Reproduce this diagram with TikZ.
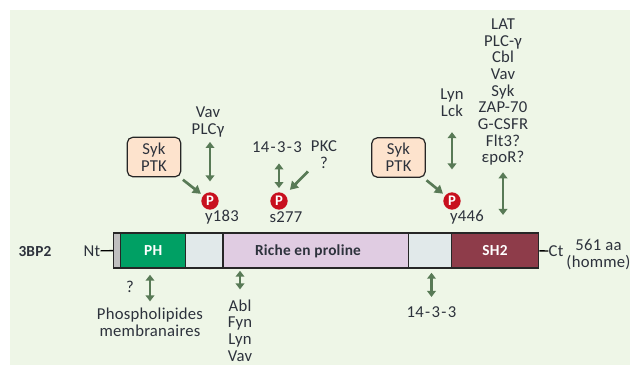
\documentclass[tikz,border=0pt]{standalone}
\usepackage{fontspec}
\setmainfont{Carlito}[LetterSpace=1.5]
\usepackage{tikz}
\usetikzlibrary{
    positioning,
    arrows.meta
}
\definecolor{PageGreen}{RGB}{238,246,231}
\definecolor{LinkGreen}{RGB}{88,122,86}
\definecolor{InkDark}{RGB}{45,50,60}
\definecolor{BoxPeach}{RGB}{253,227,205}
\definecolor{DomPH}{RGB}{0,160,100}
\definecolor{DomGrey}{RGB}{225,233,234}
\definecolor{DomProline}{RGB}{224,204,226}
\definecolor{DomSH}{RGB}{142,60,74}
\definecolor{PhosRed}{RGB}{200,16,30}

\begin{document}
\begin{tikzpicture}[
                    x=0.75pt, y=-0.75pt,
                    font=\fontsize{12.5}{12.5}\selectfont,
                    every node/.style={inner sep=0pt, text=InkDark},
                    lbl/.style={align=center},
                    dombox/.style={draw=black!85, line width=1.1pt, minimum height=26.25pt, anchor=west, font=\fontsize{11.5}{12}\selectfont\bfseries},
                    kinase/.style={draw=black!85, line width=0.9pt, fill=BoxPeach, rounded corners=4pt, minimum width=40pt, minimum height=29.5pt, align=center},
                    phos/.style={circle, fill=PhosRed, text=white, minimum size=13pt, font=\fontsize{11}{11}\selectfont\bfseries},
                    link/.style={-{Triangle[length=6pt,width=7pt]}, line width=2pt, draw=LinkGreen},
                    dlink/.style={{Triangle[length=4.5pt,width=6.5pt]}-{Triangle[length=4.5pt,width=6.5pt]}, line width=1.6pt, draw=LinkGreen},
                ]
  \useasboundingbox (0,0) rectangle (630,365);
  \fill[white] (0,0) rectangle (630,365);
  \fill[PageGreen] (10,10) rectangle (630,365);

  % Protein bar
  \node[dombox, fill=black!25, minimum width=5.25pt] (capN) at (113,250.5) {};
  \node[dombox, fill=DomPH, minimum width=48.75pt, text=white] (domPH) at (120,250.5) {PH};
  \node[dombox, fill=DomGrey, minimum width=28.1pt] (domA) at (185,250.5) {};
  \node[dombox, fill=DomProline, minimum width=139.5pt] (domPro) at (222.5,250.5) {};
  \node[dombox, fill=DomGrey, minimum width=31.9pt] (domB) at (408,250.5) {};
  \node[dombox, fill=DomSH, minimum width=65.6pt, text=white] (domSH) at (450.5,250.5) {SH2};
  \node[font=\fontsize{11.5}{12}\selectfont\bfseries] (namePro) at (308,251) {Riche en proline};

  % Ends of the bar
  \node[font=\fontsize{11.5}{12}\selectfont\bfseries] (nameP) at (35,252) {3BP2};
  \node (endN) at (92,251) {Nt};
  \node (endC) at (556,251) {Ct};
  \node[lbl] (sizeP) at (598.5,254.5) {561 aa\\(homme)};
  \draw[line width=1pt] (endN) -- (capN);
  \draw[line width=1pt] (endC) -- (domSH);

  % Phosphorylation sites
  \node[phos] (siteA) at (210,201) {P};
  \node[phos] (siteB) at (279,201) {P};
  \node[phos] (siteC) at (452,201) {P};
  \node (tagA) at (222,217) {y183};
  \node (tagB) at (286,217) {s277};
  \node (tagC) at (467,217) {y446};

  % Kinases
  \node[kinase] (sykA) at (154,157) {Syk\\PTK};
  \node[kinase] (sykB) at (398.5,157.5) {Syk\\PTK};
  \draw[link, shorten <=3pt, shorten >=2pt] (sykA) -- (siteA);
  \draw[link, shorten <=3pt, shorten >=2pt] (sykB) -- (siteC);

  % Partners above
  \node[lbl] (upVav) at (208,122) {Vav\\PLCγ};
  \node[lbl] (upRaf) at (277,147) {14\kern1pt-\kern1pt3\kern1pt-\kern1pt3};
  \node[lbl] (upPKC) at (324,154.5) {PKC\\?};
  \node[lbl] (upLyn) at (452,102.5) {Lyn\\Lck};
  \node[lbl] (upLAT) at (503,92) {LAT\\PLC-γ\\Cbl\\Vav\\Syk\\ZAP-70\\G-CSFR\\Flt3?\\εpoR?};
  \draw[dlink, shorten <=3.5pt, shorten >=8pt] (upVav.south -| siteA) -- (siteA);
  \draw[dlink, shorten <=8pt, shorten >=3pt] (upRaf.south -| siteB) -- (siteB);
  \draw[link, shorten <=3pt, shorten >=5pt] (upPKC.south west) -- (siteB);
  \draw[dlink, shorten <=11pt, shorten >=17pt] (upLyn) ++(0,15) -- (siteC);
  \draw[dlink, shorten <=5pt, shorten >=13pt] (upLAT.south) -- (domSH.north -| upLAT.south);

  % Partners below
  \node[lbl] (dnLipid) at (150,322.5) {Phospholipides\\membranaires};
  \node (dnQ) at (130,287) {?};
  \node[lbl] (dnAbl) at (240,330.5) {Abl\\Fyn\\Lyn\\Vav};
  \node[lbl] (dnRaf) at (431.5,312) {14\kern1pt-\kern1pt3\kern1pt-\kern1pt3};
  \draw[dlink, shorten <=4.5pt, shorten >=5pt] (domPH.south -| dnLipid.north) -- (dnLipid);
  \draw[dlink, shorten <=1.5pt, shorten >=7.5pt] (domPro.south -| dnAbl.north) -- (dnAbl);
  \draw[dlink, shorten <=3pt, shorten >=7pt] (domB.south -| dnRaf.north) -- (dnRaf);
\end{tikzpicture}
\end{document}
